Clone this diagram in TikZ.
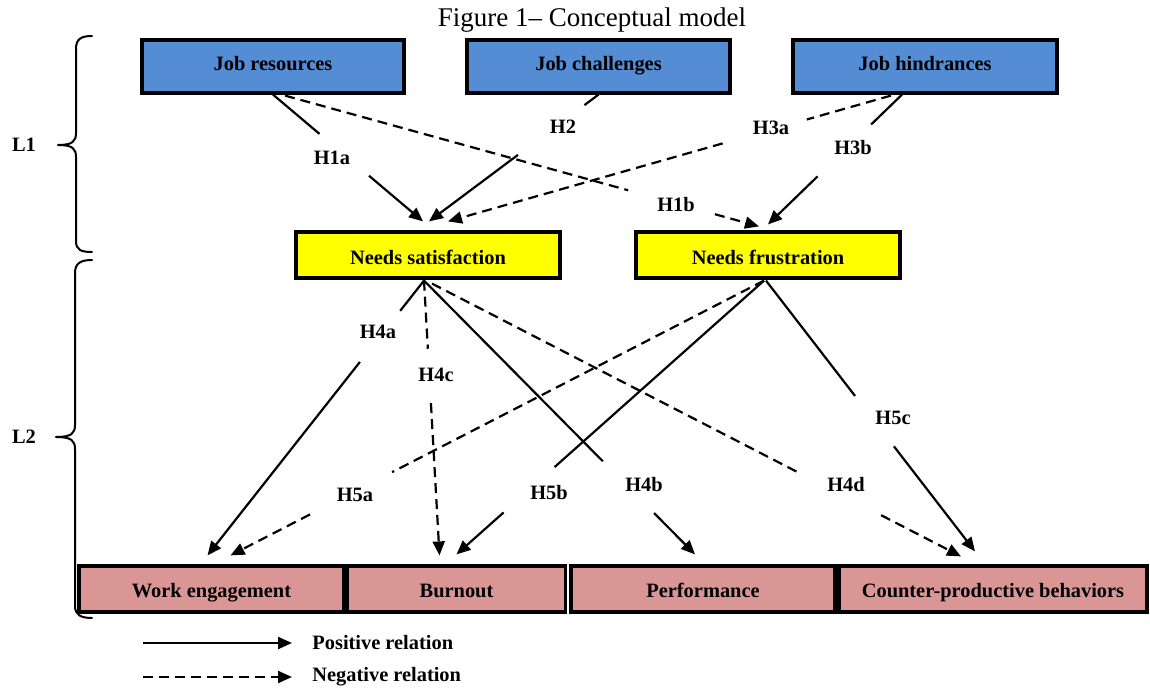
\documentclass[tikz,border=0pt]{standalone}
\usepackage{fontspec}
\setmainfont{Liberation Serif}
\usetikzlibrary{arrows.meta,calc}
\definecolor{boxblue}{RGB}{84,141,212}
\definecolor{boxyellow}{RGB}{255,255,0}
\definecolor{boxpink}{RGB}{217,150,148}
\newcommand\hyparrow[5]{%
  \path (#2) -- (#3) coordinate[pos=#4] (g1) coordinate[pos=#5] (g2);
  \draw[#1] (#2) -- (g1);
  \draw[#1, arrowhead] (g2) -- (#3);
}
\begin{document}
\begin{tikzpicture}[x=0.5pt,y=-0.5pt,
  boxbase/.style={draw=black, line width=1.6pt, inner sep=0pt, align=center,
    font=\fontsize{10.2}{12}\selectfont\bfseries},
  topbox/.style={boxbase, fill=boxblue, minimum height=26.5pt, text height=7pt, text depth=2.5pt},
  midbox/.style={boxbase, fill=boxyellow, minimum height=23pt, text height=9.3pt, text depth=0.2pt},
  botbox/.style={boxbase, fill=boxpink, minimum height=23pt, text height=8.8pt, text depth=0.8pt},
  lab/.style={inner sep=0pt, font=\fontsize{10.2}{12}\selectfont\bfseries},
  posline/.style={line width=1.1pt},
  negline/.style={line width=1.1pt, dash pattern=on 5pt off 3pt},
  arrowhead/.style={-{Triangle[length=7pt,width=6pt]}},
  bracestyle/.style={line width=1pt, line cap=round, line join=round}
]
\useasboundingbox (0,0) rectangle (1150,689);

% title
\node[inner sep=0pt, font=\fontsize{13.5}{16}\selectfont] (title) at (592,20) {Figure 1– Conceptual model};

% boxes
\node[topbox, minimum width=131pt] (jr) at (273,66.5) {Job resources};
\node[topbox, minimum width=131.5pt] (jc) at (598.5,66.5) {Job challenges};
\node[topbox, minimum width=132pt] (jh) at (925,66.5) {Job hindrances};
\node[midbox, minimum width=132pt] (ns) at (428,255) {Needs satisfaction};
\node[midbox, minimum width=132pt] (nf) at (768,255) {Needs frustration};
\node[botbox, minimum width=132.5pt] (we) at (211.5,589) {Work engagement};
\node[botbox, minimum width=109pt] (bo) at (456.5,589) {Burnout};
\node[botbox, minimum width=132pt] (pe) at (703,589) {Performance};
\node[botbox, minimum width=154pt] (cp) at (993,589) {Counter-productive behaviors};

% level labels and braces
\node[lab] (L1) at (24,145) {L1};
\node[lab] (L2) at (24,437) {L2};
\draw[bracestyle] (92,36) .. controls (81,36) and (76,39) .. (76,49) -- (76,133)
  .. controls (76,141) and (73,145) .. (58,145)
  .. controls (73,145) and (76,149) .. (76,157) -- (76,241)
  .. controls (76,250) and (81,252) .. (92,252);
\draw[bracestyle] (92,260) .. controls (81,260) and (75,263) .. (75,273) -- (75,425)
  .. controls (75,433) and (72,437) .. (56,437)
  .. controls (72,437) and (75,441) .. (75,449) -- (75,606)
  .. controls (75,615) and (81,618) .. (92,618);

% connector end points
\coordinate (s1a) at (jr.south);
\coordinate (e1a) at ($(ns.north)+(-5,-9)$);
\coordinate (s1b) at ($(jr.south)+(12,1)$);
\coordinate (e1b) at ($(nf.north)+(-9,-4)$);
\coordinate (s2) at (jc.south);
\coordinate (e2) at ($(ns.north)+(1,-9)$);
\coordinate (s3a) at ($(jh.south)+(-34,1)$);
\coordinate (e3a) at ($(ns.north)+(20,-9)$);
\coordinate (s3b) at ($(jh.south)+(-23,0)$);
\coordinate (e3b) at ($(nf.north)+(0,-6)$);
\coordinate (s4) at ($(ns.south)+(-4,1)$);
\coordinate (s4d) at ($(ns.south)+(4,4)$);
\coordinate (e4a) at ($(we.north)+(-4,-9)$);
\coordinate (e4c) at ($(bo.north)+(-17,-9)$);
\coordinate (e4b) at ($(pe.north)+(-8,-10)$);
\coordinate (e4d) at ($(cp.north)+(-32,-8)$);
\coordinate (s5) at ($(nf.south)+(-4,1)$);
\coordinate (s5c) at ($(nf.south)+(-2,1)$);
\coordinate (e5a) at ($(we.north)+(19,-9)$);
\coordinate (e5b) at ($(bo.north)+(0,-10)$);
\coordinate (e5c) at ($(cp.north)+(-18,-13)$);

% connectors
\hyparrow{posline}{s1a}{e1a}{0.31}{0.64}
\hyparrow{negline}{s1b}{e1b}{0.724}{0.907}
\hyparrow{posline}{s2}{e2}{0.083}{0.475}
\hyparrow{negline}{s3a}{e3a}{0.19}{0.38}
\hyparrow{posline}{s3b}{e3b}{0.23}{0.63}
\hyparrow{posline}{s4}{e4a}{0.11}{0.296}
\hyparrow{negline}{s4}{e4c}{0.248}{0.446}
\hyparrow{posline}{s4}{e4b}{0.66}{0.849}
\hyparrow{negline}{s4d}{e4d}{0.698}{0.849}
\hyparrow{negline}{s5}{e5a}{0.697}{0.851}
\hyparrow{posline}{s5}{e5b}{0.681}{0.847}
\hyparrow{posline}{s5c}{e5c}{0.426}{0.612}

% hypothesis labels
\node[lab] (lH1a) at (332,158) {H1a};
\node[lab] (lH1b) at (676,205) {H1b};
\node[lab] (lH2) at (563,127) {H2};
\node[lab] (lH3a) at (771,128) {H3a};
\node[lab] (lH3b) at (853,148) {H3b};
\node[lab] (lH4a) at (378,332) {H4a};
\node[lab] (lH4c) at (436,375) {H4c};
\node[lab] (lH4b) at (644,485) {H4b};
\node[lab] (lH4d) at (846,485) {H4d};
\node[lab] (lH5a) at (355,495) {H5a};
\node[lab] (lH5b) at (549,493) {H5b};
\node[lab] (lH5c) at (893,418) {H5c};

% legend
\node[lab, anchor=west] (legpos) at (312,643) {Positive relation};
\node[lab, anchor=west] (legneg) at (312,677) {Negative relation};
\coordinate (lp1) at (143,643);
\coordinate (lp2) at ($(legpos.west)+(-20,0)$);
\coordinate (ln1) at (143,677);
\coordinate (ln2) at ($(legneg.west)+(-20,0)$);
\draw[posline, arrowhead] (lp1) -- (lp2);
\draw[negline, arrowhead] (ln1) -- (ln2);
\end{tikzpicture}
\end{document}
